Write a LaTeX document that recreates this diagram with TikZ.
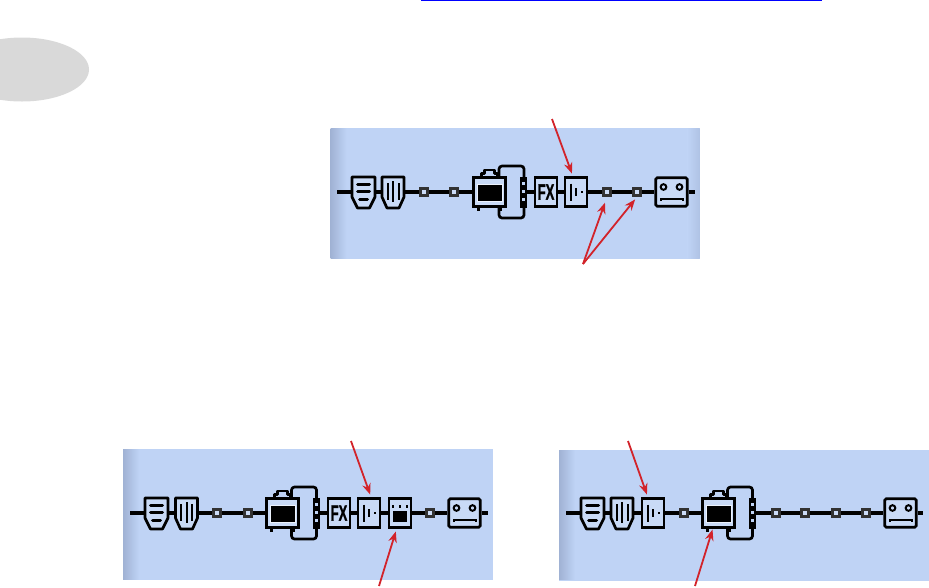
\documentclass[tikz,border=0pt]{standalone}
\usepackage{fontspec}
\usepackage{xcolor}
\newfontfamily\fxfont[UprightFont=*-Bold, FakeBold=1.5]{Liberation Sans}
\usetikzlibrary{arrows.meta, calc}
\definecolor{panelblue}{RGB}{191,211,245}
\definecolor{panelshade}{RGB}{160,178,212}
\definecolor{arrowred}{RGB}{210,35,42}
\definecolor{tabgray}{RGB}{217,217,217}
\definecolor{linkblue}{RGB}{0,0,255}
\definecolor{slotgray}{RGB}{50,50,50}
\tikzset{
  gatepic/.pic={
    \draw[icon, fill=panelblue!85!white] (-11.5,-15) -- (11.5,-15) -- (11.5,5) -- (6,16) -- (-6,16) -- (-11.5,5) -- cycle;
    \draw[bar] (-6,-8) -- (6,-8);
    \draw[bar] (-6,-1) -- (6,-1);
    \draw[bar] (-4,7.5) -- (4,7.5);
  },
  noisepic/.pic={
    \draw[icon, fill=panelblue!85!white] (-11,-15) -- (11,-15) -- (11,5) -- (6,16) -- (-6,16) -- (-11,5) -- cycle;
    \draw[thinbar] (-5.5,-9) -- (-5.5,8);
    \draw[thinbar] (0,-11) -- (0,10);
    \draw[thinbar] (5.5,-9) -- (5.5,8);
  },
  comppic/.pic={
    \draw[thinbar] (-5.5,-8.5) -- (-5.5,8.5);
    \draw[thinbar] (0,-4) -- (0,4);
    \fill (4.5,-1.2) rectangle (7,1.2);
  },
  amppic/.pic={
    \draw[icon] (-8,-15) -- (-8,-18.5) -- (-5,-18.5) -- (-5,-22) -- (5,-22) -- (5,-18.5) -- (8,-18.5) -- (8,-15);
    \draw[icon] (-11,15) -- (-11,18.5);
    \draw[icon] (11,15) -- (11,18.5);
    \fill[white!70!panelblue] (-13,-8.5) rectangle (13,10);
    \fill (-12,-7.5) rectangle (12,9);
  },
  loopic/.pic={
    \draw[icon, rounded corners=3pt] (-24.5,-15) -- (-24.5,-26) -- (0.5,-26) -- (0.5,-15);
    \draw[icon, rounded corners=3pt] (-24.5,15) -- (-24.5,26) -- (0.5,26) -- (0.5,15);
    \foreach \gap in {-9,-1,7}
      \fill[panelblue] (-1.5,\gap-1.5) rectangle (1.5,\gap+1.5);
  },
  pedalpic/.pic={
    \foreach \dotx in {-7,0,7}
      \fill (\dotx-1.2,-8) rectangle (\dotx+1.2,-5.5);
    \fill (-7,-2) rectangle (7,9);
  },
  cabpic/.pic={
    \draw[thinbar] (-8,-5) circle (2.8);
    \draw[thinbar] (8,-5) circle (2.8);
    \draw[thinbar] (-11,9) -- (-11,6.5) -- (11,6.5) -- (11,9);
  },
  panel/.style={fill=panelblue, minimum width=370pt, minimum height=131pt, inner sep=0pt, outer sep=0pt},
  icon/.style={line width=2.7pt, line join=round},
  bar/.style={line width=3pt, line cap=round},
  thinbar/.style={line width=2pt},
  iconbox/.style={minimum width=23pt, minimum height=30pt, inner sep=0pt},
  unitbox/.style={draw, line width=2.7pt, fill=panelblue!85!white, minimum width=22pt, minimum height=28.5pt, inner sep=0pt},
  ampbox/.style={unitbox, minimum width=31.5pt},
  cabbox/.style={unitbox, minimum width=31.5pt, rounded corners=1.5pt},
  barsbox/.style={fill=black, minimum width=7pt, minimum height=31pt, inner sep=0pt},
  slot/.style={draw=slotgray, line width=2.6pt, fill=panelblue!80!white, minimum size=7.5pt, inner sep=0pt},
  chainline/.style={line width=3.4pt},
  redarrow/.style={-{Stealth[length=11pt, width=8.5pt]}, arrowred, line width=1.8pt}
}
\begin{document}
\begin{tikzpicture}[x=1pt, y=-1pt]
\useasboundingbox (0,0) rectangle (929,587);
\clip (0,0) rectangle (929,587);
\fill[tabgray] (22,69.5) ellipse (67 and 32);
\coordinate (linkl) at (421,0.5);
\coordinate (linkr) at (822,0.5);
\draw[linkblue, line width=1.2pt] (linkl) -- (linkr);
% panels
\node[panel, minimum width=369pt] at (515,193.5) (panela) {};
\node[panel] at (308,514.5) (panelb) {};
\node[panel] at (744,515) (panelc) {};
\foreach \pname in {panela, panelb, panelc} {
  \fill[left color=panelshade, right color=panelblue] ($(\pname.north west)+(0,0.6)$) rectangle ($(\pname.south west)+(16,-0.6)$);
}
\fill[left color=panelblue, right color=panelshade!50!panelblue] ($(panela.north east)+(-12,0.6)$) rectangle ($(panela.south east)+(0,-0.6)$);
% top row
\coordinate (starta) at (337,192);
\coordinate (enda) at (695,192);
\node[iconbox] at (363.5,192) (gatea) {};
\node[iconbox] at (393,192) (noisea) {};
\node[slot] at (424,192) (slota) {};
\node[slot] at (454,192) (slotb) {};
\node[ampbox] at (489.5,192) (ampa) {};
\node[barsbox] at (523.5,192) (barsa) {};
\node[unitbox] at (546,192) (fxa) {\scalebox{.62}[1.05]{\fxfont\fontsize{21}{21}\selectfont FX}};
\node[unitbox] at (576,192) (compa) {};
\node[slot] at (607,192) (slotc) {};
\node[slot] at (637,192) (slotd) {};
\node[cabbox] at (671.5,192) (caba) {};
\draw[chainline] (starta) -- (gatea) -- (noisea) -- (slota) -- (slotb) -- (ampa);
\draw[chainline] (barsa) -- (fxa) -- (compa) -- (slotc) -- (slotd) -- (caba) -- (enda);
% left row
\coordinate (startb) at (130,513);
\coordinate (endb) at (488,513);
\node[iconbox] at (156.5,513) (gateb) {};
\node[iconbox] at (186.5,513) (noiseb) {};
\node[slot] at (217,513) (slote) {};
\node[slot] at (248,513) (slotf) {};
\node[ampbox] at (282.5,513) (ampb) {};
\node[barsbox] at (316,513) (barsb) {};
\node[unitbox] at (339,513) (fxb) {\scalebox{.62}[1.05]{\fxfont\fontsize{21}{21}\selectfont FX}};
\node[unitbox] at (369,513) (compb) {};
\node[unitbox] at (400,513) (pedalb) {};
\node[slot] at (430,513) (slotg) {};
\node[cabbox] at (464.5,513) (cabb) {};
\draw[chainline] (startb) -- (gateb) -- (noiseb) -- (slote) -- (slotf) -- (ampb);
\draw[chainline] (barsb) -- (fxb) -- (compb) -- (pedalb) -- (slotg) -- (cabb) -- (endb);
% right row
\coordinate (startc) at (566,513);
\coordinate (endc) at (923,513);
\node[iconbox] at (592.5,513) (gatec) {};
\node[iconbox] at (622,513) (noisec) {};
\node[unitbox] at (653,513) (compc) {};
\node[slot] at (684,513) (sloth) {};
\node[ampbox] at (718.5,513) (ampc) {};
\node[barsbox] at (752,513) (barsc) {};
\node[slot] at (776,513) (sloti) {};
\node[slot] at (805,513) (slotj) {};
\node[slot] at (836,513) (slotk) {};
\node[slot] at (866,513) (slotl) {};
\node[cabbox] at (900.5,513) (cabc) {};
\draw[chainline] (startc) -- (gatec) -- (noisec) -- (compc) -- (sloth) -- (ampc);
\draw[chainline] (barsc) -- (sloti) -- (slotj) -- (slotk) -- (slotl) -- (cabc) -- (endc);
% icon details
\foreach \gname in {gatea, gateb, gatec} \pic at (\gname) {gatepic};
\foreach \nname in {noisea, noiseb, noisec} \pic at (\nname) {noisepic};
\foreach \cname in {compa, compb, compc} \pic at (\cname) {comppic};
\foreach \aname in {ampa, ampb, ampc} \pic at (\aname) {amppic};
\foreach \bname in {barsa, barsb, barsc} \pic at (\bname) {loopic};
\foreach \kname in {caba, cabb, cabc} \pic at (\kname) {cabpic};
\pic at (pedalb) {pedalpic};
% arrows
\coordinate (taila) at (552,119);
\coordinate (tailb) at (583,264);
\coordinate (tailc) at (351,441);
\coordinate (taild) at (379,586);
\coordinate (taile) at (628,441);
\coordinate (tailf) at (695,586);
\draw[redarrow, shorten >=3pt] (taila) -- (compa.101);
\draw[redarrow, shorten >=6pt] (tailb) -- (slotc.south);
\draw[redarrow, shorten >=3pt] (tailb) -- (slotd.south);
\draw[redarrow, shorten >=3pt] (tailc) -- (compb.82);
\draw[redarrow, shorten >=3pt] (taild) -- (pedalb.258);
\draw[redarrow, shorten >=3pt] (taile) -- (compc.108);
\draw[redarrow, shorten >=1pt] (tailf) -- (ampc.250);
\end{tikzpicture}
\end{document}
